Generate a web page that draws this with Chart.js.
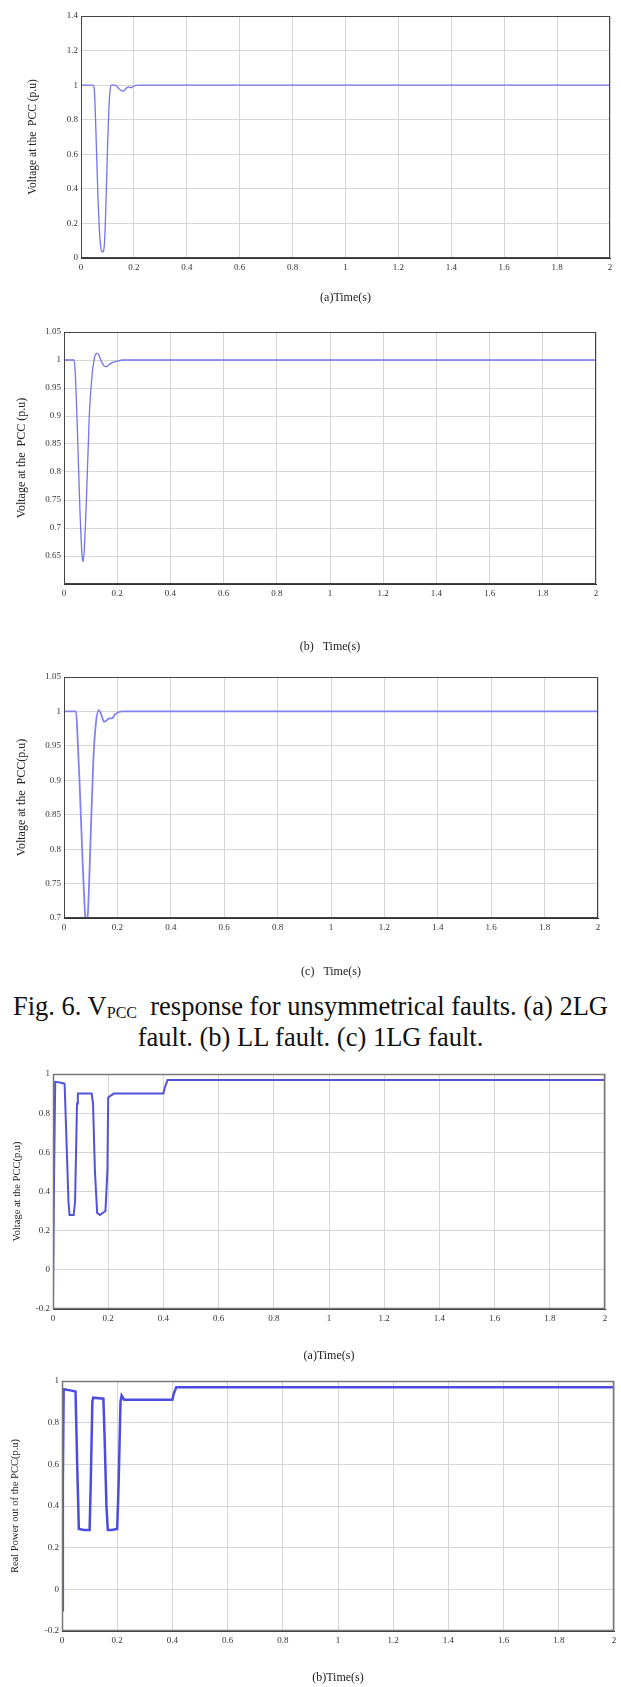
<!DOCTYPE html>
<html>
<head>
<meta charset="utf-8">
<script src="https://cdn.jsdelivr.net/npm/chart.js@4.4.1/dist/chart.umd.min.js"></script>
<style>
  html, body { margin: 0; padding: 0; background: #fff; }
  body { width: 621px; height: 1687px; position: relative; overflow: hidden; }
  .plot { position: absolute; left: 0; width: 621px; }
  .caption {
    position: absolute; left: 0; width: 621px; text-align: center;
    font-family: 'Liberation Serif', 'Times New Roman', serif;
    font-size: 26.5px; line-height: 31px; color: #111;
  }
  .caption sub { font-size: 16px; vertical-align: -3px; line-height: 0; }
</style>
</head>
<body>
<div class="plot" style="top:0px;height:310px"><canvas id="c1"></canvas></div>
<div class="plot" style="top:310px;height:345px"><canvas id="c2"></canvas></div>
<div class="plot" style="top:655px;height:325px"><canvas id="c3"></canvas></div>
<div class="caption" style="top:991px">Fig. 6. V<sub>PCC</sub>&nbsp; response for unsymmetrical faults. (a) 2LG<br>fault. (b) LL fault. (c) 1LG fault.</div>
<div class="plot" style="top:1055px;height:310px"><canvas id="c4"></canvas></div>
<div class="plot" style="top:1365px;height:322px"><canvas id="c5"></canvas></div>

<script>
// (a) 2LG fault - V_PCC
const timeA = [0, 0.045, 0.05, 0.055, 0.06, 0.065, 0.07, 0.075, 0.08, 0.085, 0.09, 0.095, 0.1, 0.105, 0.11, 0.115, 0.12, 0.13, 0.14, 0.15, 0.16, 0.17, 0.18, 0.19, 0.2, 0.22, 2];
const voltA = [1, 1, 0.98, 0.8, 0.55, 0.32, 0.15, 0.06, 0.035, 0.04, 0.12, 0.35, 0.62, 0.85, 0.97, 1.0, 1.0, 1.0, 0.985, 0.97, 0.965, 0.98, 0.99, 0.985, 0.995, 1, 1];

// (b) LL fault - V_PCC
const timeB = [0, 0.038, 0.042, 0.05, 0.06, 0.068, 0.072, 0.076, 0.085, 0.095, 0.105, 0.115, 0.122, 0.13, 0.14, 0.15, 0.16, 0.17, 0.18, 0.2, 0.22, 2];
const voltB = [1, 1, 0.98, 0.88, 0.73, 0.65, 0.64, 0.66, 0.76, 0.9, 0.97, 1.005, 1.012, 1.01, 0.998, 0.99, 0.988, 0.992, 0.995, 0.998, 1, 1];

// (c) 1LG fault - V_PCC
const timeC = [0, 0.045, 0.05, 0.06, 0.07, 0.08, 0.085, 0.09, 0.1, 0.11, 0.12, 0.13, 0.14, 0.15, 0.16, 0.17, 0.18, 0.19, 0.2, 0.22, 2];
const voltC = [1, 1, 0.97, 0.88, 0.78, 0.70, 0.69, 0.71, 0.82, 0.93, 0.985, 1.002, 0.995, 0.985, 0.987, 0.99, 0.99, 0.995, 0.998, 1, 1];

// second figure (a) voltage at PCC
const timeD = [0, 0.004, 0.008, 0.03, 0.042, 0.048, 0.056, 0.06, 0.075, 0.08, 0.087, 0.09, 0.14, 0.145, 0.152, 0.16, 0.17, 0.18, 0.19, 0.197, 0.2, 0.22, 0.4, 0.405, 0.415, 2];
const voltD = [-0.15, 0.5, 0.96, 0.955, 0.95, 0.7, 0.35, 0.28, 0.28, 0.35, 0.85, 0.9, 0.9, 0.85, 0.5, 0.29, 0.28, 0.29, 0.3, 0.5, 0.88, 0.9, 0.9, 0.93, 0.97, 0.97];

// second figure (b) real power out of PCC
const timeE = [0, 0.003, 0.006, 0.03, 0.049, 0.055, 0.061, 0.08, 0.1, 0.104, 0.11, 0.113, 0.15, 0.155, 0.161, 0.166, 0.18, 0.2, 0.205, 0.212, 0.216, 0.225, 0.4, 0.405, 0.414, 2];
const powE = [-0.1, 0.5, 0.96, 0.955, 0.95, 0.6, 0.29, 0.285, 0.285, 0.5, 0.9, 0.92, 0.915, 0.7, 0.4, 0.285, 0.285, 0.29, 0.5, 0.9, 0.93, 0.91, 0.91, 0.94, 0.97, 0.97];

const xTicks = { min: 0, max: 2, step: 0.2 };

const serif = "'Liberation Serif', 'Times New Roman', serif";

// MATLAB style box round the axes
const frame = {
  id: 'frame',
  afterDraw(chart, args, opts) {
    const a = chart.chartArea;
    const ctx = chart.ctx;
    ctx.save();
    ctx.strokeStyle = opts.color || '#333';
    ctx.lineWidth = opts.width || 1;
    ctx.strokeRect(a.left + 0.5, a.top + 0.5, a.right - a.left - 1, a.bottom - a.top - 1);
    ctx.restore();
  }
};

function fmt(v) {
  return String(Number(v.toFixed(2)));
}

function makePlot(id, p) {
  const pts = p.xs.map((x, i) => ({ x: x, y: p.ys[i] }));
  const bottomEdge = p.top + p.height;
  new Chart(document.getElementById(id), {
    type: 'line',
    data: {
      datasets: [{
        data: pts,
        borderColor: p.color,
        borderWidth: p.lw,
        pointRadius: 0,
        tension: 0,
        cubicInterpolationMode: p.smooth ? 'monotone' : 'default',
        fill: false
      }]
    },
    options: {
      responsive: true,
      maintainAspectRatio: false,
      animation: false,
      parsing: false,
      layout: {
        padding: { left: 0, top: p.area.t - p.top, right: 621 - p.area.r, bottom: 0 }
      },
      plugins: {
        legend: { display: false },
        tooltip: { enabled: false },
        frame: { color: p.frameColor, width: p.frameWidth }
      },
      scales: {
        x: {
          type: 'linear',
          min: xTicks.min, max: xTicks.max,
          afterFit: s => { s.height = bottomEdge - p.area.b; },
          grid: { color: '#d6d6d6', drawTicks: false },
          border: { display: true, color: '#333' },
          ticks: { stepSize: xTicks.step, padding: 4, color: '#333', font: { family: serif, size: 9 }, callback: v => fmt(v), maxRotation: 0 },
          title: { display: true, text: p.xTitle, color: '#222', font: { family: serif, size: 12 }, padding: { top: 0, bottom: bottomEdge - p.xTitleY - 7 } }
        },
        y: {
          min: p.yMin, max: p.yMax,
          afterFit: s => { s.width = p.area.l; },
          grid: { color: '#d6d6d6', drawTicks: false },
          border: { display: true, color: '#333' },
          ticks: {
            stepSize: p.yStep, padding: 3, color: '#333', font: { family: serif, size: 9 },
            callback: v => (p.hide && p.hide.includes(fmt(v))) ? '' : fmt(v)
          },
          title: { display: true, text: p.yTitle, color: '#222', font: { family: serif, size: p.yTitleSize || 11.5 }, padding: { top: p.yTitleX - 7, bottom: 0 } }
        }
      }
    },
    plugins: [frame]
  });
}

makePlot('c1', {
  top: 0, height: 310, area: { l: 81, r: 610, t: 16, b: 258 },
  xs: timeA, ys: voltA, yMin: 0, yMax: 1.4, yStep: 0.2,
  yTitle: 'Voltage at the  PCC (p.u)', xTitle: '(a)Time(s)', yTitleX: 33, xTitleY: 298,
  color: '#7474ee', lw: 1.3, smooth: true, frameColor: '#444', frameWidth: 1
});

makePlot('c2', {
  top: 310, height: 345, area: { l: 64, r: 596, t: 332, b: 584 },
  xs: timeB, ys: voltB, yMin: 0.6, yMax: 1.05, yStep: 0.05, hide: ['0.6'],
  yTitle: 'Voltage at the  PCC (p.u)', xTitle: '(b)   Time(s)', yTitleX: 22, xTitleY: 647,
  color: '#7474ee', lw: 1.3, smooth: true, frameColor: '#444', frameWidth: 1, yTitleSize: 12
});

makePlot('c3', {
  top: 655, height: 325, area: { l: 64, r: 598, t: 677, b: 918 },
  xs: timeC, ys: voltC, yMin: 0.7, yMax: 1.05, yStep: 0.05,
  yTitle: 'Voltage at the  PCC(p.u)', xTitle: '(c)   Time(s)', yTitleX: 22, xTitleY: 972,
  color: '#8282f2', lw: 1.8, smooth: true, frameColor: '#444', frameWidth: 1, yTitleSize: 12
});

makePlot('c4', {
  top: 1055, height: 310, area: { l: 53, r: 605, t: 1074, b: 1309 },
  xs: timeD, ys: voltD, yMin: -0.2, yMax: 1, yStep: 0.2,
  yTitle: 'Voltage at the PCC(p.u)', xTitle: '(a)Time(s)', yTitleX: 18, xTitleY: 1356,
  color: '#5252d8', lw: 2, smooth: false, frameColor: '#777', frameWidth: 1.5, yTitleSize: 10.5
});

makePlot('c5', {
  top: 1365, height: 322, area: { l: 62, r: 614, t: 1381, b: 1631 },
  xs: timeE, ys: powE, yMin: -0.2, yMax: 1, yStep: 0.2,
  yTitle: 'Real Power out of the PCC(p.u)', xTitle: '(b)Time(s)', yTitleX: 16, xTitleY: 1678,
  color: '#4c4ce0', lw: 2.5, smooth: false, frameColor: '#777', frameWidth: 1.5, yTitleSize: 10.5
});
</script>
</body>
</html>
